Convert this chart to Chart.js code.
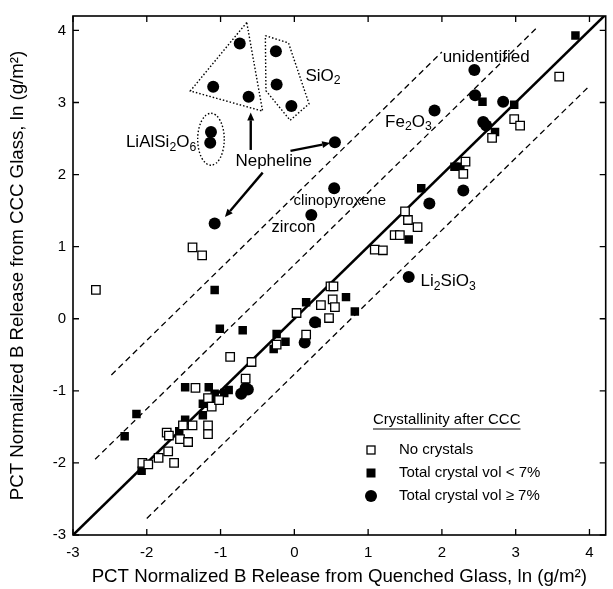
<!DOCTYPE html>
<html><head><meta charset="utf-8">
<script src="https://cdn.jsdelivr.net/npm/chart.js@4/dist/chart.umd.min.js"></script>
<style>html,body{margin:0;padding:0;background:#fff}#wrap{width:613px;height:589px}</style>
</head><body><div id="wrap"><canvas id="c" width="613" height="589"></canvas></div>
<script>
// ---- tick labels ----
const tickValues = [-3, -2, -1, 0, 1, 2, 3, 4];

// ---- series: No crystals (open squares) ----
const noCrystalsX = [-2.69,-1.38,-1.25,-0.87,-0.58,-0.66,-1.34,-1.17,-1.12,-1.02,-1.51,-1.38,-1.17,-1.17,-1.73,-1.70,-1.55,-1.44,-1.71,-1.84,-1.63,-2.06,-1.98,0.16,0.03,0.36,0.49,0.53,0.52,0.55,0.47,-0.24,1.09,1.20,1.36,1.43,1.67,1.54,1.50,2.29,2.32,2.68,2.98,3.06,3.59];
const noCrystalsY = [0.40,0.99,0.88,-0.53,-0.60,-0.83,-0.96,-1.10,-1.22,-1.13,-1.48,-1.48,-1.48,-1.60,-1.58,-1.62,-1.67,-1.71,-1.84,-1.93,-2.00,-2.00,-2.02,-0.22,0.08,0.19,0.45,0.45,0.27,0.16,0.01,-0.36,0.96,0.95,1.16,1.16,1.27,1.37,1.49,2.01,2.18,2.51,2.77,2.68,3.36];

// ---- series: Total crystal vol < 7% (filled squares) ----
const lowCrystX = [-1.08,-1.01,-0.70,-1.48,-1.16,-1.08,-0.95,-0.89,-1.12,-1.24,-1.24,-1.48,-1.56,-2.14,-2.30,-2.07,-0.24,-0.12,-0.28,0.16,0.70,0.82,0.30,1.55,1.72,2.17,2.25,2.55,2.98,2.72,3.81];
const lowCrystY = [0.40,-0.14,-0.16,-0.95,-0.95,-1.04,-1.03,-0.99,-1.10,-1.18,-1.34,-1.40,-1.56,-1.32,-1.63,-2.11,-0.21,-0.32,-0.42,0.23,0.30,0.10,-0.06,1.10,1.81,2.11,2.11,3.01,2.97,2.59,3.93];

// ---- series: Total crystal vol >= 7% (filled circles) ----
const highCrystX = [-0.74,-1.10,-0.62,-0.25,-0.24,-0.04,-1.13,-1.14,-1.08,0.23,0.55,0.54,1.90,2.44,2.45,2.83,2.56,2.60,1.83,2.29,1.55,0.28,0.14,-0.72,-0.66,-0.63];
const highCrystY = [3.82,3.22,3.08,3.71,3.25,2.95,2.59,2.44,1.32,1.44,2.45,1.81,2.89,3.45,3.10,3.01,2.73,2.68,1.60,1.78,0.58,-0.05,-0.33,-1.04,-0.96,-0.98];

// ---- reference lines (1:1 line and offset bands) ----
const oneToOneX = [-3, 4.22];
const oneToOneY = [-3, 4.22];
const upperOuterX = [-2.48, 2.0];
const upperOuterY = [-0.78, 3.70];
const upperInnerX = [-2.70, 3.31];
const upperInnerY = [-1.95, 4.06];
const lowerX = [-2.0, 4.0];
const lowerY = [-2.77, 3.23];

// ---- dotted group outlines ----
const nephelineOutlineX = [-0.645, -1.41, -0.43, -0.645];
const nephelineOutlineY = [4.11, 3.16, 2.88, 4.11];
const sio2OutlineX = [-0.393, -0.079, 0.199, -0.057, -0.385, -0.393];
const sio2OutlineY = [3.927, 3.826, 2.982, 2.753, 3.164, 3.927];

const pts = (xs, ys) => xs.map((x, i) => ({x, y: ys[i]}));
const FONT = "'Liberation Sans', Arial, Helvetica, sans-serif";

const lineDs = (xs, ys, opts) => Object.assign({
  type: 'line', data: pts(xs, ys), borderColor: '#000', borderWidth: 1.3,
  pointRadius: 0, fill: false, tension: 0, order: 5
}, opts);

// annotation text (data coordinates)
const labels = [
  {t: 'SiO_{2}', x: 0.15, y: 3.37, align: 'left', size: 17},
  {t: 'LiAlSi_{2}O_{6}', x: -1.33, y: 2.45, align: 'right', size: 17},
  {t: 'Nepheline', x: -0.28, y: 2.18, align: 'center', size: 17},
  {t: 'unidentified', x: 2.01, y: 3.62, align: 'left', size: 17},
  {t: 'Fe_{2}O_{3}', x: 1.23, y: 2.73, align: 'left', size: 17},
  {t: 'clinopyroxene', x: -0.01, y: 1.63, align: 'left', size: 15},
  {t: 'zircon', x: -0.31, y: 1.27, align: 'left', size: 16.5},
  {t: 'Li_{2}SiO_{3}', x: 1.71, y: 0.52, align: 'left', size: 17}
];
const arrows = [
  {x1: -0.591, y1: 2.342, x2: -0.591, y2: 2.863},
  {x1: -0.429, y1: 2.027, x2: -0.941, y2: 1.411},
  {x1: -0.052, y1: 2.329, x2: 0.486, y2: 2.438}
];
const ellipse = {x: -1.13, y: 2.49, rx: 0.18, ry: 0.36};

function segs(s) {
  const out = []; let cur = ''; let i = 0;
  while (i < s.length) {
    if ((s[i] === '_' || s[i] === '^') && s[i + 1] === '{') {
      if (cur) { out.push({t: cur, m: 0}); cur = ''; }
      const j = s.indexOf('}', i);
      out.push({t: s.slice(i + 2, j), m: s[i] === '_' ? 1 : -1});
      i = j + 1;
    } else { cur += s[i]; i++; }
  }
  if (cur) out.push({t: cur, m: 0});
  return out;
}
function richText(ctx, s, x, y, size, align) {
  const parts = segs(s);
  let w = 0;
  parts.forEach(p => { ctx.font = (p.m ? size * 0.72 : size) + 'px ' + FONT; p.w = ctx.measureText(p.t).width; w += p.w; });
  let cx = align === 'right' ? x - w : align === 'center' ? x - w / 2 : x;
  ctx.textBaseline = 'middle'; ctx.textAlign = 'left'; ctx.fillStyle = '#000';
  parts.forEach(p => {
    ctx.font = (p.m ? size * 0.72 : size) + 'px ' + FONT;
    const dy = p.m === 1 ? size * 0.3 : p.m === -1 ? -size * 0.35 : 0;
    ctx.fillText(p.t, cx, y + dy);
    cx += p.w;
  });
  return w;
}

const decor = {
  id: 'decor',
  afterDraw(chart) {
    const ctx = chart.ctx, xs = chart.scales.x, ys = chart.scales.y, a = chart.chartArea;
    const X = v => xs.getPixelForValue(v), Y = v => ys.getPixelForValue(v);
    ctx.save();
    // frame
    ctx.strokeStyle = '#000'; ctx.lineWidth = 1.6;
    ctx.strokeRect(a.left, a.top, a.right - a.left, a.bottom - a.top);
    // inward ticks
    ctx.lineWidth = 1.3;
    const tl = 6;
    tickValues.forEach(v => {
      const px = X(v), py = Y(v);
      ctx.beginPath();
      ctx.moveTo(px, a.bottom); ctx.lineTo(px, a.bottom - tl);
      ctx.moveTo(px, a.top); ctx.lineTo(px, a.top + tl);
      ctx.moveTo(a.left, py); ctx.lineTo(a.left + tl, py);
      ctx.moveTo(a.right, py); ctx.lineTo(a.right - tl, py);
      ctx.stroke();
    });
    // ellipse (dotted)
    ctx.setLineDash([1.5, 2]); ctx.lineWidth = 1.4;
    ctx.beginPath();
    ctx.ellipse(X(ellipse.x), Y(ellipse.y), Math.abs(X(ellipse.x + ellipse.rx) - X(ellipse.x)), Math.abs(Y(ellipse.y + ellipse.ry) - Y(ellipse.y)), 0, 0, Math.PI * 2);
    ctx.stroke();
    ctx.setLineDash([]);
    // arrows
    ctx.lineWidth = 2.4; ctx.fillStyle = '#000';
    arrows.forEach(ar => {
      const x1 = X(ar.x1), y1 = Y(ar.y1), x2 = X(ar.x2), y2 = Y(ar.y2);
      const ang = Math.atan2(y2 - y1, x2 - x1), hl = 8, hw = 3.5;
      const bx = x2 - hl * Math.cos(ang), by = y2 - hl * Math.sin(ang);
      ctx.beginPath(); ctx.moveTo(x1, y1); ctx.lineTo(bx, by); ctx.stroke();
      ctx.beginPath(); ctx.moveTo(x2, y2);
      ctx.lineTo(bx + hw * Math.sin(ang), by - hw * Math.cos(ang));
      ctx.lineTo(bx - hw * Math.sin(ang), by + hw * Math.cos(ang));
      ctx.closePath(); ctx.fill();
    });
    // labels
    labels.forEach(l => richText(ctx, l.t, X(l.x), Y(l.y), l.size, l.align));
    // legend
    const lx = 373, ly = 420;
    ctx.font = '15px ' + FONT; ctx.textBaseline = 'middle'; ctx.textAlign = 'left'; ctx.fillStyle = '#000';
    const head = 'Crystallinity after CCC';
    ctx.fillText(head, lx, ly);
    const hw2 = ctx.measureText(head).width;
    ctx.lineWidth = 1; ctx.beginPath(); ctx.moveTo(lx, ly + 9); ctx.lineTo(lx + hw2, ly + 9); ctx.stroke();
    const rows = [
      {t: 'No crystals', y: 450, s: 'open'},
      {t: 'Total crystal vol < 7%', y: 473, s: 'sq'},
      {t: 'Total crystal vol \u2265 7%', y: 496, s: 'circ'}
    ];
    rows.forEach(r => {
      const mx = 371;
      if (r.s === 'open') { ctx.lineWidth = 1.3; ctx.fillStyle = '#fff'; ctx.fillRect(mx - 4, r.y - 4, 8, 8); ctx.strokeRect(mx - 4, r.y - 4, 8, 8); }
      else if (r.s === 'sq') { ctx.fillStyle = '#000'; ctx.fillRect(mx - 4.5, r.y - 4.5, 9, 9); }
      else { ctx.fillStyle = '#000'; ctx.beginPath(); ctx.arc(mx, r.y, 6, 0, Math.PI * 2); ctx.fill(); }
      ctx.fillStyle = '#000'; ctx.font = '15px ' + FONT;
      ctx.fillText(r.t, 399, r.y);
    });
    ctx.restore();
  }
};

new Chart(document.getElementById('c'), {
  type: 'scatter',
  data: {
    datasets: [
      {label: 'No crystals', data: pts(noCrystalsX, noCrystalsY), pointStyle: 'rect', pointRadius: 6,
       backgroundColor: '#fff', borderColor: '#000', borderWidth: 1.3, order: 1},
      {label: 'Total crystal vol < 7%', data: pts(lowCrystX, lowCrystY), pointStyle: 'rect', pointRadius: 6,
       backgroundColor: '#000', borderColor: '#000', borderWidth: 0, order: 2},
      {label: 'Total crystal vol \u2265 7%', data: pts(highCrystX, highCrystY), pointStyle: 'circle', pointRadius: 6,
       backgroundColor: '#000', borderColor: '#000', borderWidth: 0, order: 3},
      lineDs(oneToOneX, oneToOneY, {borderWidth: 2.6}),
      lineDs(upperOuterX, upperOuterY, {borderDash: [6, 4]}),
      lineDs(upperInnerX, upperInnerY, {borderDash: [6, 4]}),
      lineDs(lowerX, lowerY, {borderDash: [6, 4]}),
      lineDs(nephelineOutlineX, nephelineOutlineY, {borderDash: [1.5, 2], borderWidth: 1.4}),
      lineDs(sio2OutlineX, sio2OutlineY, {borderDash: [1.5, 2], borderWidth: 1.4})
    ]
  },
  options: {
    responsive: false, animation: false, devicePixelRatio: 1,
    layout: {padding: {top: 9, right: 3, left: 0, bottom: 0}},
    plugins: {legend: {display: false}, tooltip: {enabled: false}},
    scales: {
      x: {
        type: 'linear', min: -3, max: 4.22,
        afterBuildTicks: s => { s.ticks = tickValues.map(v => ({value: v})); },
        afterFit: s => { s.height = 54; },
        grid: {display: false, drawTicks: false}, border: {display: false},
        ticks: {font: {family: FONT, size: 15}, color: '#000', padding: 9, maxRotation: 0},
        title: {display: true, text: 'PCT Normalized B Release from Quenched Glass, ln (g/m\u00b2)',
                font: {family: FONT, size: 18.7}, color: '#000', padding: {top: 0, bottom: 1}}
      },
      y: {
        type: 'linear', min: -3, max: 4.2,
        afterBuildTicks: s => { s.ticks = tickValues.map(v => ({value: v})); },
        afterFit: s => { s.width = 73; },
        grid: {display: false, drawTicks: false}, border: {display: false},
        ticks: {font: {family: FONT, size: 15}, color: '#000', padding: 7},
        title: {display: true, text: 'PCT Normalized B Release from CCC Glass, ln (g/m\u00b2)',
                font: {family: FONT, size: 18.7}, color: '#000', padding: {top: 7, bottom: 0}}
      }
    }
  },
  plugins: [decor]
});
</script></body></html>
